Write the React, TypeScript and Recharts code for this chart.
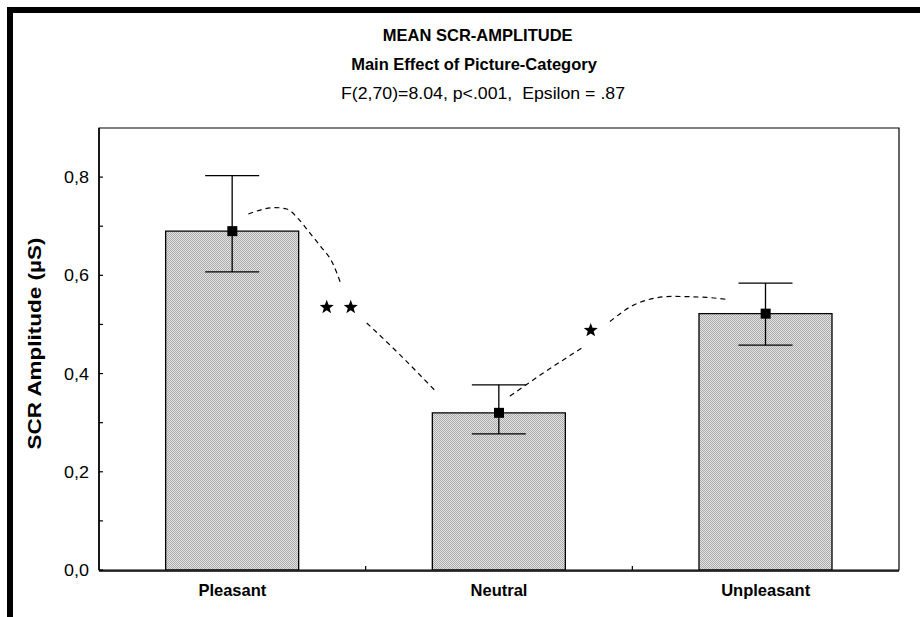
import React from 'react';
import { ComposedChart, Bar, Line, XAxis, YAxis, ErrorBar, ReferenceArea } from 'recharts';

// ---- data ----
const categories = ['Pleasant', 'Neutral', 'Unpleasant'];
const means = [0.69, 0.32, 0.522];
const errLow = [0.607, 0.277, 0.458];
const errHigh = [0.803, 0.377, 0.584];

const yTicks = [0, 0.1, 0.2, 0.3, 0.4, 0.5, 0.6, 0.7, 0.8];
const yDomain = [0, 0.9];
const boundaryTicks = [1, 2];

// dashed significance curves, x in category units (0..3 across plot), y in µS
const curve1X = [0.56, 0.66, 0.704, 0.751, 0.791, 0.831, 0.876, 0.906, 0.955, 1.004, 1.129, 1.266];
const curve1Y = [0.725, 0.738, 0.735, 0.713, 0.686, 0.659, 0.625, 0.584, null, 0.503, 0.438, 0.362];
const curve2X = [1.541, 1.666, 1.816, 1.866, 1.916, 2.019, 2.148, 2.279, 2.354];
const curve2Y = [0.354, 0.401, 0.454, null, 0.506, 0.543, 0.557, 0.555, 0.551];

// significance stars
const starX = [0.854, 0.944, 1.844];
const starY = [0.535, 0.535, 0.488];

const FONT = '"Liberation Sans", Arial, Helvetica, sans-serif';

const YTick = (props: any) => {
  const { x, y, payload } = props;
  const v = payload.value as number;
  const major = Math.round(v * 10) % 2 === 0;
  return (
    <g>
      <line x1={x} x2={x + 4} y1={y} y2={y} stroke="#000" strokeWidth={1.2} />
      {major && (
        <text
          x={x - 10}
          y={y}
          textAnchor="end"
          dominantBaseline="central"
          fontSize={16.5}
          fontFamily={FONT}
          fill="#000"
          textLength={25}
          lengthAdjust="spacingAndGlyphs"
        >
          {v.toFixed(1).replace('.', ',')}
        </text>
      )}
    </g>
  );
};

const CatTick = (props: any) => {
  const { x, y, payload } = props;
  return (
    <text x={x} y={y + 25} textAnchor="middle" fontSize={16.5} fontWeight="bold" fontFamily={FONT} fill="#000">
      {payload.value}
    </text>
  );
};

const BoundaryTick = (props: any) => {
  const { x, y } = props;
  return <line x1={x} x2={x} y1={y} y2={y - 4} stroke="#000" strokeWidth={1.2} />;
};

const SquareDot = (props: any) => {
  const { cx, cy } = props;
  if (cx == null || cy == null) return null;
  return <rect x={cx - 5} y={cy - 5} width={10} height={10} fill="#000" />;
};

const StarDot = (props: any) => {
  const { cx, cy } = props;
  if (cx == null || cy == null) return null;
  const R = 7.4;
  const r = R * 0.42;
  const pts: string[] = [];
  for (let i = 0; i < 10; i++) {
    const rad = i % 2 === 0 ? R : r;
    const a = -Math.PI / 2 + (i * Math.PI) / 5;
    pts.push(`${cx + rad * Math.cos(a)},${cy + rad * Math.sin(a)}`);
  }
  return <polygon points={pts.join(' ')} fill="#000" />;
};

export default function App() {
  const data = categories.map((name, i) => ({
    name,
    value: means[i],
    err: [means[i] - errLow[i], errHigh[i] - means[i]],
  }));
  const curve1 = curve1X.map((x, i) => ({ x, y: curve1Y[i] }));
  const curve2 = curve2X.map((x, i) => ({ x, y: curve2Y[i] }));
  const stars = starX.map((x, i) => ({ x, y: starY[i] }));

  return (
    <div style={{ position: 'absolute', left: 0, top: 0, width: 920, height: 617, background: '#fff', overflow: 'hidden' }}>
      <svg width={0} height={0} style={{ position: 'absolute' }}>
        <defs>
          <pattern id="halftone" width="2" height="2" patternUnits="userSpaceOnUse">
            <rect width="2" height="2" fill="#e2e2e2" />
            <rect x="0" y="0" width="1" height="1" fill="#acacac" />
            <rect x="1" y="1" width="1" height="1" fill="#acacac" />
          </pattern>
        </defs>
      </svg>
      <div
        style={{
          position: 'absolute',
          left: 7,
          top: 7,
          width: 913,
          height: 610,
          boxSizing: 'border-box',
          borderLeft: '6px solid #000',
          borderTop: '6px solid #000',
        }}
      />
      <div style={{ position: 'absolute', left: 0, top: 0 }}>
        <ComposedChart
          width={920}
          height={617}
          data={data}
          margin={{ top: 128, right: 21, bottom: 0, left: 0 }}
          barCategoryGap="25%"
        >
          <XAxis
            xAxisId="cat"
            dataKey="name"
            height={46}
            axisLine={{ stroke: '#000', strokeWidth: 1.5 }}
            tickLine={false}
            tickSize={0}
            tickMargin={0}
            interval={0}
            tick={<CatTick />}
          />
          <XAxis
            xAxisId="a_num"
            type="number"
            dataKey="x"
            domain={[0, 3]}
            ticks={boundaryTicks}
            height={1}
            axisLine={false}
            tickLine={false}
            tickSize={0}
            tickMargin={0}
            tick={<BoundaryTick />}
            allowDataOverflow
          />
          <YAxis
            type="number"
            domain={yDomain}
            ticks={yTicks}
            width={99}
            axisLine={{ stroke: '#000', strokeWidth: 1.5 }}
            tickLine={false}
            tickSize={0}
            tickMargin={0}
            interval={0}
            tick={<YTick />}
            allowDataOverflow
          />
          <ReferenceArea xAxisId="a_num" x1={0} x2={3} y1={0} y2={0.9} fill="none" stroke="#000" strokeWidth={1.2} />
          <Bar xAxisId="cat" dataKey="value" fill="url(#halftone)" stroke="#000" strokeWidth={1.3} isAnimationActive={false}>
            <ErrorBar dataKey="err" width={27} stroke="#000" strokeWidth={1.3} direction="y" />
          </Bar>
          <Line
            xAxisId="cat"
            dataKey="value"
            stroke="none"
            dot={<SquareDot />}
            activeDot={false}
            isAnimationActive={false}
          />
          <Line
            xAxisId="a_num"
            data={curve1}
            dataKey="y"
            type="monotone"
            stroke="#000"
            strokeWidth={1.2}
            strokeDasharray="5 4"
            dot={false}
            activeDot={false}
            connectNulls={false}
            isAnimationActive={false}
          />
          <Line
            xAxisId="a_num"
            data={curve2}
            dataKey="y"
            type="monotone"
            stroke="#000"
            strokeWidth={1.2}
            strokeDasharray="5 4"
            dot={false}
            activeDot={false}
            connectNulls={false}
            isAnimationActive={false}
          />
          <Line
            xAxisId="a_num"
            data={stars}
            dataKey="y"
            stroke="none"
            dot={<StarDot />}
            activeDot={false}
            isAnimationActive={false}
          />
        </ComposedChart>
      </div>
      <svg width={920} height={617} style={{ position: 'absolute', left: 0, top: 0, pointerEvents: 'none' }}>
        <text x={477.7} y={40.7} textAnchor="middle" fontSize={16.5} fontWeight="bold" fontFamily={FONT} fill="#000">
          MEAN SCR-AMPLITUDE
        </text>
        <text x={474} y={70} textAnchor="middle" fontSize={16.5} fontWeight="bold" fontFamily={FONT} fill="#000">
          Main Effect of Picture-Category
        </text>
        <text
          x={483}
          y={99}
          textAnchor="middle"
          fontSize={17}
          fontFamily={FONT}
          fill="#000"
          style={{ whiteSpace: 'pre' }}
          textLength={284}
          lengthAdjust="spacingAndGlyphs"
        >
          {'F(2,70)=8.04, p<.001,  Epsilon = .87'}
        </text>
        <text
          x={35}
          y={343.5}
          transform="rotate(-90 35 343.5)"
          textAnchor="middle"
          dominantBaseline="central"
          fontSize={17.5}
          fontWeight="bold"
          fontFamily={FONT}
          fill="#000"
          textLength={212}
          lengthAdjust="spacingAndGlyphs"
        >
          SCR Amplitude (µS)
        </text>
      </svg>
    </div>
  );
}
